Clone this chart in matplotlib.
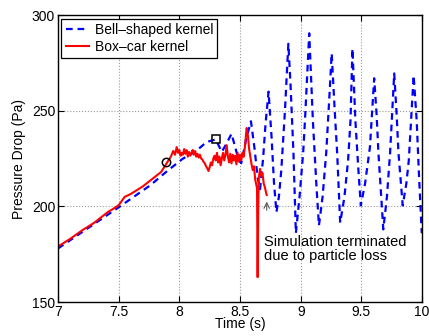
import matplotlib
matplotlib.use('Agg')
import matplotlib.pyplot as plt

plt.rcParams['font.family'] = ['Liberation Sans', 'DejaVu Sans']
plt.rcParams['font.size'] = 10

# Bell-shaped kernel (blue dashed)
bell_t = [7.0, 7.5, 7.76, 7.9, 8.03, 8.13, 8.225, 8.30, 8.35, 8.39, 8.43, 8.49, 8.51,
          8.55, 8.59, 8.62, 8.645, 8.665, 8.69, 8.71, 8.735, 8.76, 8.78, 8.80, 8.82,
          8.84, 8.87, 8.898, 8.915, 8.94, 8.96, 8.99, 9.02, 9.035, 9.07, 9.10, 9.13,
          9.15, 9.18, 9.21, 9.24, 9.255, 9.28, 9.30, 9.325, 9.36, 9.39, 9.41, 9.426,
          9.45, 9.475, 9.495, 9.53, 9.57, 9.605, 9.625, 9.64, 9.68, 9.71, 9.736, 9.77,
          9.79, 9.805, 9.84, 9.87, 9.89, 9.93, 9.955, 9.975, 9.997]
bell_p = [178, 199.5, 211, 218.5, 225, 228.5, 233.7, 235, 228.5, 233, 238, 224, 222.6,
          235, 244.5, 230, 215, 209, 225, 243, 260, 236, 212, 197, 205,
          219, 250, 285, 265, 228, 186, 205, 228, 245, 290.5, 245, 210,
          190, 205, 228, 262, 280, 250, 228, 191.5, 205, 224, 245, 282.5,
          245, 219, 200.5, 212, 231, 267, 248, 228, 188, 205, 228, 269.5,
          248, 228, 200.5, 212, 224, 268.5, 245, 215, 186]

# Box-car kernel (red solid)
box_t = [7.0, 7.1, 7.2, 7.3, 7.41, 7.45, 7.5, 7.55, 7.6, 7.7, 7.8, 7.85, 7.89,
         7.93, 7.95, 7.965, 7.978, 7.99, 8.00, 8.01, 8.02, 8.03, 8.04, 8.05, 8.06,
         8.07, 8.08, 8.09, 8.10, 8.11, 8.12, 8.13, 8.14, 8.15, 8.16, 8.17, 8.18,
         8.19, 8.20, 8.21, 8.22, 8.23, 8.24, 8.25, 8.26, 8.27, 8.28, 8.29, 8.30,
         8.31, 8.32, 8.33, 8.34, 8.35, 8.36, 8.37, 8.38, 8.39, 8.40, 8.41, 8.42,
         8.43, 8.44, 8.45, 8.46, 8.47, 8.48, 8.49, 8.50, 8.51, 8.52, 8.53, 8.54,
         8.55, 8.555, 8.565, 8.575, 8.585, 8.595, 8.605, 8.615, 8.625, 8.635, 8.64,
         8.645, 8.65, 8.655, 8.665, 8.675, 8.685, 8.695, 8.705, 8.715, 8.72]
box_p = [179, 183, 187.5, 191.5, 197, 198.5, 200.6, 205, 206.5, 210.5, 215.5, 218, 222,
         226, 229, 227, 231, 228, 229.5, 226.5, 228, 227, 230, 227.5, 229.4,
         226, 228.5, 226.5, 228, 229.5, 227, 229, 226, 227.5, 225.5, 227, 225,
         224.5, 223.3, 222.5, 221, 220, 218.5, 220.5, 223, 221.5, 225, 226.5, 224,
         228, 223, 226, 221.5, 225, 228, 224, 227, 232, 226, 223, 227.5,
         222.5, 227, 224, 226.5, 222, 228, 223.5, 227, 224, 228, 226, 231,
         238, 241, 237, 230, 226, 222, 219, 221, 214, 211, 209.5,
         163, 200, 215, 219.6, 216, 217.5, 212, 210, 207, 206]

# markers
circle_t = [7.888]
circle_p = [223]
square_t = [8.30]
square_p = [235]

fig = plt.figure(figsize=(4.29, 3.36), dpi=100)
ax = fig.add_axes([0.135, 0.101, 0.849, 0.854])

ax.plot(bell_t, bell_p, '--', color='b', lw=1.6, dashes=(3, 2.2), label='Bell\u2013shaped kernel')
ax.plot(box_t, box_p, '-', color='r', lw=1.5, label='Box\u2013car kernel')
ax.plot(circle_t, circle_p, 'o', mfc='none', mec='k', ms=6, mew=1.1)
ax.plot(square_t, square_p, 's', mfc='none', mec='k', ms=5.5, mew=1.1)

ax.annotate('', xy=(8.72, 204), xytext=(8.72, 196.5),
            arrowprops=dict(arrowstyle='->', color='0.35', lw=0.8))
ax.text(8.70, 185, 'Simulation terminated\ndue to particle loss', va='top', ha='left',
        linespacing=0.95, fontsize=10.5)

ax.set_xlim(7, 10)
ax.set_ylim(150, 300)
ax.set_xticks([7, 7.5, 8, 8.5, 9, 9.5, 10])
ax.set_xticklabels(['7', '7.5', '8', '8.5', '9', '9.5', '10'])
ax.set_yticks([150, 200, 250, 300])
ax.grid(True, linestyle=':', color='0.6', lw=0.8)
ax.tick_params(direction='in', top=True, right=True, length=4, pad=2)
for s in ax.spines.values():
    s.set_linewidth(1.0)

ax.set_xlabel('Time (s)', labelpad=-1)
ax.set_ylabel('Pressure Drop (Pa)', labelpad=4)

leg = ax.legend(loc='upper left', fancybox=False, edgecolor='k', framealpha=1,
                handlelength=1.7, borderaxespad=0.25, borderpad=0.3,
                labelspacing=0.25, handletextpad=0.4)
leg.get_frame().set_linewidth(0.9)

fig.savefig('out.png', dpi=100)
